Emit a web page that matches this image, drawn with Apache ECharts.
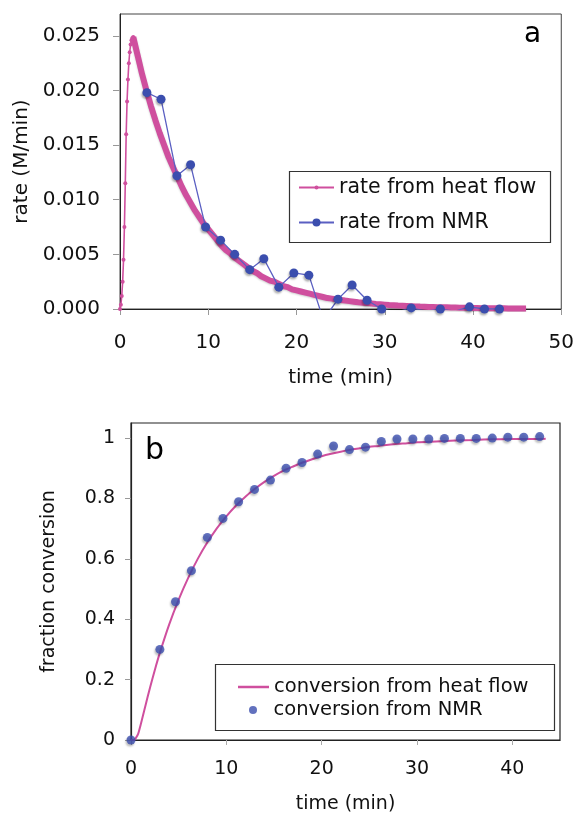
<!DOCTYPE html>
<html><head><meta charset="utf-8">
<script src="https://cdn.jsdelivr.net/npm/echarts@6/dist/echarts.min.js"></script>
<style>html,body{margin:0;padding:0;background:#fff}#c{width:577px;height:815px}</style>
</head><body><div id="c"></div>
<script>
// ---------- data ----------
// panel a: rate from heat flow, [time (min), rate (M/min)]
const heatRise = [[0,0],[0.1,0.0004],[0.2,0.0012],[0.3,0.0025],[0.4,0.0045],[0.5,0.0075],[0.6,0.0115],[0.7,0.0160],[0.8,0.0190],[0.9,0.0210],[1.0,0.0225],[1.1,0.0235],[1.2,0.0242],[1.3,0.0246],[1.4,0.0248],[1.5,0.0249]];
const heatDecay = [[1.5,0.0249],[2,0.0232],[2.5,0.0215],[3,0.0200],[3.5,0.0186],[4,0.0173],[4.5,0.0161],[5,0.0150],[5.5,0.0139],[6,0.0130],[6.5,0.0121],[7,0.0112],[7.5,0.0104],[8,0.0097],[8.5,0.0090],[9,0.0084],[9.5,0.0078],[10,0.0073],[10.5,0.0068],[11,0.0063],[11.5,0.0058],[12,0.0054],[12.5,0.0051],[13,0.0047],[13.5,0.0044],[14,0.0041],[14.5,0.0038],[15,0.0035],[15.5,0.0033],[16,0.0030],[16.5,0.0028],[17,0.0026],[17.5,0.0025],[18,0.0023],[18.5,0.0021],[19,0.0020],[19.5,0.0018],[20,0.0017],[20.5,0.0016],[21,0.0015],[21.5,0.0014],[22,0.0013],[22.5,0.0012],[23,0.0011],[23.5,0.0010],[24,0.00095],[24.5,0.00089],[25,0.00083],[25.5,0.00077],[26,0.00072],[26.5,0.00067],[27,0.00062],[27.5,0.00058],[28,0.00054],[28.5,0.00050],[29,0.00046],[29.5,0.00043],[30,0.00040],[30.5,0.00037],[31,0.00035],[31.5,0.00032],[32,0.00030],[32.5,0.00028],[33,0.00026],[33.5,0.00024],[34,0.00022],[34.5,0.00021],[35,0.00019],[35.5,0.00018],[36,0.00017],[36.5,0.00016],[37,0.00015],[37.5,0.00014],[38,0.00013],[38.5,0.00012],[39,0.00011],[39.5,0.00010],[40,0.00009],[40.5,0.00009],[41,0.00008],[41.5,0.00008],[42,0.00007],[42.5,0.00007],[43,0.00006],[43.5,0.00006],[44,0.00005],[44.5,0.00005],[45,0.00005],[45.5,0.00004],[46,0.00004]];
// panel a: rate from NMR
const nmrTime = [3.05,4.65,6.45,8.0,9.7,11.4,13.0,14.7,16.3,18.0,19.7,21.4,23.05,24.7,26.3,28.0,29.65,31.3,33.0,34.65,36.3,37.95,39.6,41.3,43.0];
const nmrRate = [0.0198,0.0192,0.0122,0.0132,0.0075,0.0063,0.0050,0.0036,0.0046,0.0020,0.0033,0.0031,-0.0010,0.0009,0.0022,0.0008,0.0000,-0.0003,0.0001,-0.0002,0.0000,-0.0002,0.0002,0.0000,0.0000];
// panel b: conversion from heat flow, [time, fraction]
const convHeat = [[0,0],[0.3,0],[0.5,0.006],[0.75,0.02],[1,0.049],[1.25,0.08],[1.5,0.112],[2,0.174],[2.5,0.232],[3,0.286],[4,0.382],[5,0.465],[6,0.537],[7,0.600],[8,0.654],[9,0.701],[10,0.741],[11,0.776],[12,0.806],[13,0.832],[14,0.855],[15,0.875],[16,0.892],[17,0.906],[18,0.919],[19,0.930],[20,0.940],[21,0.948],[22,0.955],[23,0.961],[24,0.966],[25,0.971],[26,0.974],[27,0.978],[28,0.981],[29,0.983],[30,0.986],[32,0.989],[34,0.992],[36,0.994],[38,0.996],[40,0.997],[42,0.997],[43.5,0.998]];
// panel b: conversion from NMR
const convTime = [0,3.03,4.67,6.34,8.01,9.65,11.29,12.96,14.63,16.27,17.94,19.58,21.25,22.92,24.6,26.26,27.9,29.57,31.24,32.88,34.55,36.22,37.9,39.53,41.2,42.87];
const convNmr = [0,0.300,0.458,0.561,0.671,0.734,0.789,0.830,0.861,0.900,0.919,0.947,0.974,0.962,0.970,0.989,0.997,0.997,0.997,0.999,0.999,0.999,1.0,1.003,1.003,1.005];
// tick labels
const rateTicks = [0, 0.005, 0.010, 0.015, 0.020, 0.025];
const timeTicksA = [0, 10, 20, 30, 40, 50];
const convTicks = [0, 0.2, 0.4, 0.6, 0.8, 1];
const timeTicksB = [0, 10, 20, 30, 40];

// ---------- chart ----------
const FONT = 'DejaVu Sans';
const PINK = '#cf4f9e';
const BLUE = '#3b4eae';
const chart = echarts.init(document.getElementById('c'), null, {renderer: 'canvas'});

const nmrPairs = nmrTime.map((t, i) => [t, nmrRate[i]]);
const convPairs = convTime.map((t, i) => [t, convNmr[i]]);
const shadow = {shadowColor: 'rgba(0,0,0,0.3)', shadowBlur: 2, shadowOffsetX: -1, shadowOffsetY: 2};

chart.setOption({
  animation: false,
  backgroundColor: '#fff',
  textStyle: {fontFamily: FONT},
  grid: [
    {left: 120, top: 14, width: 442, height: 295, show: true, borderColor: '#444', borderWidth: 1, backgroundColor: 'transparent'},
    {left: 131, top: 423, width: 429, height: 317, show: true, borderColor: '#222', borderWidth: 1.2, backgroundColor: 'transparent'}
  ],
  xAxis: [
    {type: 'value', gridIndex: 0, min: 0, max: 50, interval: 10,
     axisLine: {lineStyle: {color: '#222', width: 1}},
     axisTick: {length: 6, lineStyle: {color: '#999'}, customValues: timeTicksA},
     axisLabel: {fontSize: 20, color: '#111', margin: 24, fontFamily: FONT, customValues: timeTicksA},
     splitLine: {show: false},
     name: 'time (min)', nameLocation: 'middle', nameGap: 59,
     nameTextStyle: {fontSize: 20, color: '#111', fontFamily: FONT}},
    {type: 'value', gridIndex: 1, min: 0, max: 45,
     axisLine: {lineStyle: {color: '#222', width: 1.2}},
     axisTick: {length: 5, lineStyle: {color: '#aaa'}, customValues: timeTicksB},
     axisLabel: {fontSize: 19, color: '#111', margin: 20, fontFamily: FONT, customValues: timeTicksB},
     splitLine: {show: false},
     name: 'time (min)', nameLocation: 'middle', nameGap: 55,
     nameTextStyle: {fontSize: 19, color: '#111', fontFamily: FONT}}
  ],
  yAxis: [
    {type: 'value', gridIndex: 0, min: 0, max: 0.027,
     axisLine: {show: true, lineStyle: {color: '#222', width: 1}},
     axisTick: {show: true, length: 7, lineStyle: {color: '#999'}, customValues: rateTicks},
     axisLabel: {fontSize: 20, color: '#111', margin: 20, fontFamily: FONT, customValues: rateTicks,
                 formatter: v => v.toFixed(3)},
     splitLine: {show: false},
     name: 'rate (M/min)', nameLocation: 'middle', nameGap: 78, nameRotate: 90,
     nameTextStyle: {fontSize: 20, color: '#111', fontFamily: FONT}},
    {type: 'value', gridIndex: 1, min: 0, max: 1.05,
     axisLine: {show: true, lineStyle: {color: '#222', width: 1.2}},
     axisTick: {show: true, length: 6, lineStyle: {color: '#999'}, customValues: convTicks},
     axisLabel: {fontSize: 19, color: '#111', margin: 16, fontFamily: FONT, customValues: convTicks,
                 formatter: v => String(Math.round(v * 10) / 10)},
     splitLine: {show: false},
     name: 'fraction conversion', nameLocation: 'middle', nameGap: 72, nameRotate: 90,
     nameTextStyle: {fontSize: 19, color: '#111', fontFamily: FONT}}
  ],
  legend: [
    {data: ['rate from heat flow'], left: 298, top: 177, orient: 'vertical', padding: 0,
     itemWidth: 35, itemHeight: 5, selectedMode: false,
     textStyle: {fontSize: 20.5, color: '#111', fontFamily: FONT}},
    {data: ['rate from NMR'], left: 298, top: 212, orient: 'vertical', padding: 0,
     itemWidth: 35, itemHeight: 10, selectedMode: false,
     textStyle: {fontSize: 20.5, color: '#111', fontFamily: FONT}},
    {data: [{name: 'conversion from heat flow', icon: 'rect'}], left: 238, top: 677, orient: 'vertical', padding: 0,
     itemWidth: 31, itemHeight: 2.5, selectedMode: false,
     textStyle: {fontSize: 19.5, color: '#111', fontFamily: FONT}},
    {data: ['conversion from NMR'], left: 249, top: 700, orient: 'vertical', padding: 0,
     itemWidth: 31, itemHeight: 8, selectedMode: false,
     textStyle: {fontSize: 19.5, color: '#111', fontFamily: FONT}}
  ],
  graphic: [
    {type: 'rect', left: 287, top: 169, shape: {width: 261, height: 71}, style: {fill: 'none', stroke: '#333', lineWidth: 1.2}, z: 1},
    {type: 'rect', left: 213, top: 662, shape: {width: 339, height: 66}, style: {fill: 'none', stroke: '#333', lineWidth: 1.2}, z: 1},
    {type: 'text', left: 524, top: 21, style: {text: 'a', font: '28px "DejaVu Sans"', fill: '#000'}},
    {type: 'text', left: 145, top: 436, style: {text: 'b', font: '30px "DejaVu Sans"', fill: '#000'}}
  ],
  series: [
    {name: 'rate from heat flow', type: 'line', xAxisIndex: 0, yAxisIndex: 0, data: heatRise,
     symbol: 'circle', symbolSize: 4, showAllSymbol: true,
     lineStyle: {color: PINK, width: 1.6}, itemStyle: {color: PINK}, z: 3},
    {name: 'rate from heat flow', type: 'line', xAxisIndex: 0, yAxisIndex: 0, data: heatDecay,
     showSymbol: false, lineStyle: {color: PINK, width: 6, shadowColor: 'rgba(0,0,0,0.2)', shadowBlur: 2, shadowOffsetY: 1},
     itemStyle: {color: PINK}, z: 3},
    {name: 'rate from NMR', type: 'line', xAxisIndex: 0, yAxisIndex: 0, data: nmrPairs,
     symbol: 'circle', symbolSize: 9, showAllSymbol: true,
     lineStyle: {color: '#5a5fc2', width: 1.3}, itemStyle: Object.assign({color: BLUE}, shadow), z: 4},
    {name: 'conversion from heat flow', type: 'line', xAxisIndex: 1, yAxisIndex: 1, data: convHeat,
     symbol: 'none', smooth: 0.3, lineStyle: {color: PINK, width: 2}, itemStyle: {color: PINK}, z: 3},
    {name: 'conversion from NMR', type: 'scatter', xAxisIndex: 1, yAxisIndex: 1, data: convPairs,
     symbol: 'circle', symbolSize: 9, itemStyle: Object.assign({color: BLUE}, shadow), z: 4}
  ]
});
</script>
</body></html>
